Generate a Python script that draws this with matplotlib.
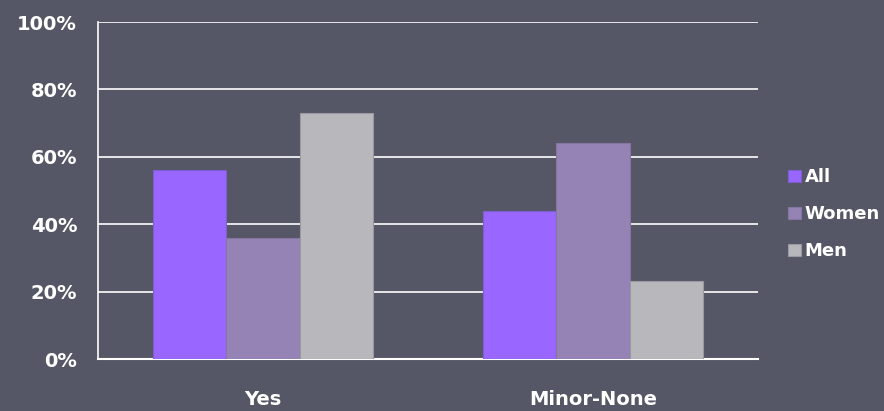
import numpy as np
import matplotlib.pyplot as plt

categories = ['Yes', 'Minor-None']
series = ['All', 'Women', 'Men']
all_vals = [56, 44]
women_vals = [36, 64]
men_vals = [73, 23]
colors = ['#9966FF', '#9483B4', '#B8B7BC']
edges = ['#7F5FD0', '#8575A0', '#9A99A0']

bg = '#555766'
fig = plt.figure(figsize=(8.84, 4.11), dpi=100, facecolor=bg)
ax = fig.add_axes([98 / 884, 52 / 411, 660 / 884, 337 / 411])
ax.set_facecolor(bg)

x = np.arange(len(categories))
w = 0.222
for i, (name, vals) in enumerate(zip(series, [all_vals, women_vals, men_vals])):
    ax.bar(x + (i - 1) * w, vals, w, color=colors[i], edgecolor=edges[i],
           linewidth=0.8, label=name, zorder=3)

ax.set_xlim(-0.5, 1.5)
ax.set_ylim(0, 100)
ax.set_yticks(range(0, 101, 20))
ax.set_yticklabels([f'{v}%' for v in range(0, 101, 20)])
ax.set_xticks(x)
ax.set_xticklabels(categories)
ax.yaxis.grid(True, color='white', linewidth=1.2, zorder=1)
ax.set_axisbelow(True)
for s in ['top', 'right']:
    ax.spines[s].set_visible(False)
ax.spines['left'].set_color('white')
ax.spines['bottom'].set_color('white')
ax.spines['left'].set_linewidth(1.2)
ax.spines['bottom'].set_linewidth(1.5)
ax.tick_params(axis='y', colors='white', length=0, pad=15, labelsize=14)
ax.tick_params(axis='x', colors='white', length=0, pad=22, labelsize=14)
for t in ax.get_xticklabels() + ax.get_yticklabels():
    t.set_fontweight('bold')

leg = fig.legend(loc='upper left', bbox_to_anchor=(772 / 884, 1 - 152 / 411),
                 frameon=False, handlelength=0.7, handleheight=0.7,
                 handletextpad=0.2, labelspacing=1.05,
                 prop={'weight': 'bold', 'size': 13})
for t in leg.get_texts():
    t.set_color('white')

fig.savefig('out.png', dpi=100, facecolor=bg)
